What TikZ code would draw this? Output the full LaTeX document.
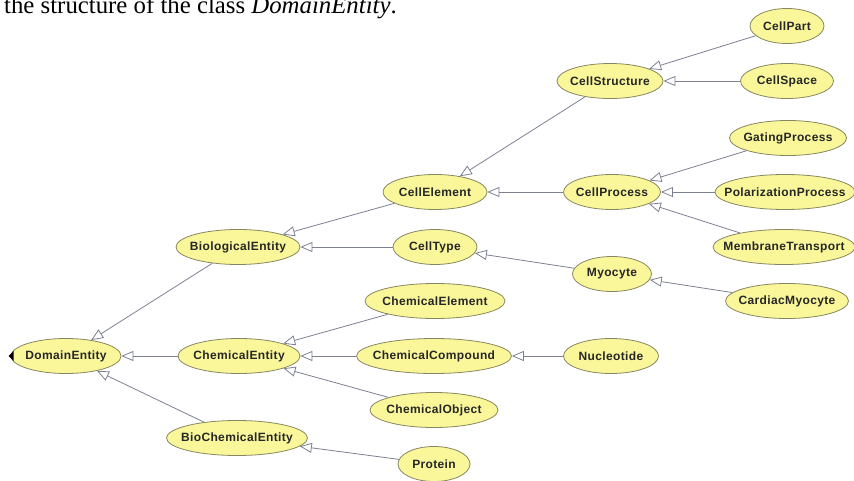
\documentclass[tikz,border=0pt]{standalone}
\usepackage{fontspec}
\setmainfont{Liberation Serif}
\newfontfamily\nodefont[LetterSpace=3]{Liberation Sans}
\usetikzlibrary{shapes.geometric,arrows.meta}
\definecolor{nodefill}{RGB}{250,247,155}
\definecolor{nodeborder}{RGB}{135,135,95}
\definecolor{edgecol}{RGB}{125,128,145}
\newcommand{\clslabel}[1]{\makebox[0pt][c]{#1}}
\begin{document}
\begin{tikzpicture}[x=1pt,y=-1pt,
 cls/.style={ellipse, draw=nodeborder, fill=nodefill, line width=0.8pt, minimum height=35pt, inner sep=0pt,
   font=\nodefont\bfseries\fontsize{12}{14}\selectfont, text=black!85},
 isa/.style={draw=edgecol, line width=0.8pt, -{Triangle[open,length=12pt,width=10pt]}}]
\useasboundingbox (0,0) rectangle (854,481);
\clip (0,0) rectangle (854,481);
\node[anchor=base west, font=\fontsize{24.8}{28}\selectfont, inner sep=0pt] (caption) at (4,14) {the structure of the class \textit{DomainEntity}.};
% column 1
\node[cls, minimum width=110pt] (dom) at (66,356) {\clslabel{DomainEntity}};
% column 2
\node[cls, minimum width=124pt] (bio) at (238,247) {\clslabel{BiologicalEntity}};
\node[cls, minimum width=122pt] (chem) at (239,356) {\clslabel{ChemicalEntity}};
\node[cls, minimum width=141pt] (biochem) at (237,438) {\clslabel{BioChemicalEntity}};
% column 3
\node[cls, minimum width=104pt] (celem) at (435,192) {\clslabel{CellElement}};
\node[cls, minimum width=84pt] (ctype) at (435,247) {\clslabel{CellType}};
\node[cls, minimum width=140pt] (chemel) at (435,301) {\clslabel{ChemicalElement}};
\node[cls, minimum width=155pt] (chemcomp) at (434,356) {\clslabel{ChemicalCompound}};
\node[cls, minimum width=128pt] (chemobj) at (434,410) {\clslabel{ChemicalObject}};
\node[cls, minimum width=72pt] (protein) at (434,464) {\clslabel{Protein}};
% column 4
\node[cls, minimum width=106pt] (cstruct) at (610,81) {\clslabel{CellStructure}};
\node[cls, minimum width=97pt] (cproc) at (612,192) {\clslabel{CellProcess}};
\node[cls, minimum width=79pt] (myo) at (612,274) {\clslabel{Myocyte}};
\node[cls, minimum width=95pt] (nucl) at (611,356) {\clslabel{Nucleotide}};
% column 5
\node[cls, minimum width=74pt] (cpart) at (787,26) {\clslabel{CellPart}};
\node[cls, minimum width=93pt] (cspace) at (787,81) {\clslabel{CellSpace}};
\node[cls, minimum width=117pt] (gating) at (788,138) {\clslabel{GatingProcess}};
\node[cls, minimum width=140pt] (polar) at (785,192) {\clslabel{PolarizationProcess}};
\node[cls, minimum width=142pt] (membr) at (784,247) {\clslabel{MembraneTransport}};
\node[cls, minimum width=123pt] (cardiac) at (787,301) {\clslabel{CardiacMyocyte}};
% collapsed marker
\fill[black] (dom.west) ++(-2,0) -- ++(5,-5) -- ++(0,10) -- cycle;
% edges
\draw[isa] (bio) -- (dom);
\draw[isa] (chem) -- (dom);
\draw[isa] (biochem) -- (dom);
\draw[isa] (celem) -- (bio);
\draw[isa] (ctype) -- (bio);
\draw[isa] (chemel) -- (chem);
\draw[isa] (chemcomp) -- (chem);
\draw[isa] (chemobj) -- (chem);
\draw[isa] (protein) -- (biochem);
\draw[isa] (cstruct) -- (celem);
\draw[isa] (cproc) -- (celem);
\draw[isa] (myo) -- (ctype);
\draw[isa] (nucl) -- (chemcomp);
\draw[isa] (cpart) -- (cstruct);
\draw[isa] (cspace) -- (cstruct);
\draw[isa] (gating) -- (cproc);
\draw[isa] (polar) -- (cproc);
\draw[isa] (membr) -- (cproc);
\draw[isa] (cardiac) -- (myo);
\end{tikzpicture}
\end{document}
